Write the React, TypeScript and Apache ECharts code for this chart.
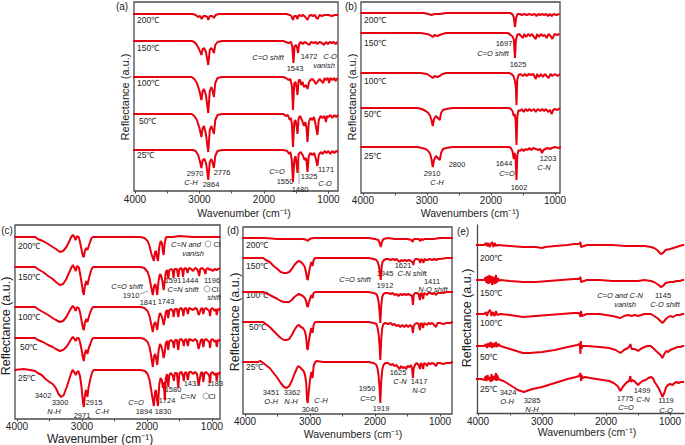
import React, { useEffect, useRef } from "react";
import * as echarts from "echarts";

const FONT = '"Liberation Sans", Arial, Helvetica, sans-serif';
const RED = "#e8000f";

const temps = ["200℃", "150℃", "100℃", "50℃", "25℃"];
const tickLabels = [4000, 3000, 2000, 1000];
const minorTicks = [4000, 3500, 3000, 2500, 2000, 1500, 1000];

// ---- (a) baselines (a.u. offsets) and dips [wavenumber, dip] ----
const aBase = [177, 150, 114, 77, 41];
const a200 = [[4030,0],[3100,0],[3060,1],[3020,3],[2990,2],[2965,5],[2940,2],[2910,2],[2880,3],[2864,6],[2840,2],[2800,2],[2776,4],[2750,1],[2700,0],[1650,0],[1600,1],[1575,2],[1550,6],[1530,2],[1500,2],[1480,5],[1460,1],[1420,2],[1390,1],[1360,3],[1325,6],[1300,2],[1270,1],[1240,2],[1210,1],[1185,4],[1165,5],[1140,1],[1100,2],[1060,1],[1000,1],[950,2],[900,1],[850,1]];
const a150 = [[4030,0],[3120,0],[3080,1],[3040,4],[3000,9],[2970,14],[2950,8],[2930,7],[2900,11],[2864,24],[2840,9],[2815,7],[2795,9],[2776,12],[2755,4],[2720,1],[2650,0],[1700,0],[1660,1],[1620,2],[1580,1],[1560,6],[1543,22],[1525,5],[1500,4],[1485,7],[1472,12],[1455,3],[1430,1],[1400,3],[1370,1],[1340,2],[1300,4],[1270,1],[1230,2],[1200,1],[1170,3],[1140,1],[1100,2],[1070,4],[1040,1],[1010,3],[980,1],[950,2],[920,1],[890,3],[860,1]];
const a100 = [[4030,0],[3120,0],[3080,2],[3040,6],[3000,14],[2970,23],[2950,14],[2930,12],[2900,18],[2864,36],[2840,14],[2815,10],[2795,14],[2776,20],[2755,6],[2720,1],[2650,0],[1700,0],[1660,1],[1620,3],[1590,2],[1565,10],[1550,33],[1530,6],[1510,5],[1495,10],[1480,18],[1462,3],[1440,3],[1420,8],[1400,5],[1380,10],[1350,8],[1325,12],[1300,5],[1280,3],[1250,2],[1220,4],[1195,7],[1171,5],[1140,2],[1110,4],[1080,6],[1060,1],[1040,3],[1010,1],[990,6],[970,1],[940,3],[910,1],[890,4],[860,1]];
const a50 = [[4030,0],[3120,0],[3080,2],[3040,6],[3000,14],[2970,23],[2950,14],[2930,12],[2900,20],[2864,38],[2840,16],[2815,12],[2795,16],[2776,20],[2755,6],[2720,1],[2650,0],[1700,0],[1660,2],[1630,1],[1600,6],[1580,4],[1565,12],[1550,33],[1530,8],[1510,6],[1495,12],[1480,20],[1462,4],[1440,2],[1410,6],[1380,12],[1360,8],[1340,14],[1325,28],[1305,8],[1280,4],[1250,6],[1225,3],[1195,12],[1171,21],[1150,6],[1120,2],[1090,4],[1060,2],[1040,8],[1020,2],[1000,3],[970,1],[940,4],[910,1],[880,3],[850,1]];
const a25 = [[4030,0],[3100,0],[3060,1],[3020,5],[2990,12],[2970,18],[2950,10],[2920,9],[2895,14],[2864,30],[2840,12],[2815,9],[2800,12],[2776,18],[2755,6],[2720,1],[2650,0],[1700,0],[1640,1],[1610,4],[1590,2],[1570,9],[1550,32],[1530,10],[1510,6],[1495,14],[1480,23],[1462,4],[1430,2],[1400,5],[1370,10],[1345,8],[1325,22],[1305,6],[1280,3],[1250,5],[1220,3],[1195,9],[1171,16],[1150,5],[1120,2],[1090,4],[1060,1],[1030,3],[1000,1],[970,4],[940,1],[910,3],[880,1],[850,2]];

// ---- (b) ----
const bBase = [180, 160, 120, 85, 46];
const b200 = [[4040,0],[3050,0],[2980,1],[2930,2],[2880,1],[2800,1],[2700,0],[1700,0],[1670,1],[1645,4],[1625,14],[1608,5],[1585,1],[1550,1],[1520,2],[1480,1],[1440,2],[1400,1],[1360,2],[1320,1],[1290,3],[1260,1],[1230,2],[1200,1],[1170,2],[1140,1],[1110,3],[1080,1],[1050,3],[1020,1],[980,2],[930,1]];
const b150 = [[4040,0],[3100,0],[3000,1],[2950,2],[2910,4],[2880,2],[2840,3],[2800,2],[2760,1],[2700,0],[1740,0],[1710,1],[1697,2],[1670,3],[1645,6],[1625,25],[1610,7],[1590,2],[1560,1],[1530,3],[1500,5],[1480,1],[1450,4],[1420,1],[1390,3],[1360,1],[1330,4],[1300,6],[1280,1],[1250,4],[1220,1],[1190,3],[1160,2],[1130,5],[1100,1],[1070,3],[1040,6],[1010,1],[970,2],[930,1]];
const b100 = [[4040,0],[3100,0],[3000,1],[2950,3],[2910,5],[2880,3],[2840,4],[2800,3],[2760,1],[2700,0],[1720,0],[1680,1],[1650,3],[1625,8],[1612,14],[1602,32],[1590,7],[1570,2],[1540,1],[1500,3],[1470,1],[1440,3],[1410,1],[1380,2],[1340,1],[1300,6],[1280,1],[1250,4],[1220,1],[1190,4],[1160,1],[1130,3],[1100,5],[1070,1],[1040,3],[1000,1],[960,3],[920,1]];
const b50 = [[4040,0],[3150,0],[3080,1],[3020,3],[2980,5],[2950,8],[2930,12],[2910,18],[2890,11],[2860,8],[2830,10],[2800,12],[2780,5],[2750,2],[2700,1],[2600,0],[1720,0],[1690,1],[1665,3],[1644,8],[1630,6],[1615,12],[1602,37],[1588,8],[1570,2],[1545,3],[1520,1],[1490,4],[1460,1],[1430,3],[1400,1],[1370,3],[1330,1],[1300,4],[1270,1],[1230,3],[1200,1],[1170,3],[1140,1],[1110,4],[1080,2],[1050,6],[1030,2],[1000,1],[960,2],[920,0]];
const b25 = [[4040,0],[3150,0],[3080,1],[3020,2],[2980,4],[2950,7],[2930,12],[2910,20],[2890,13],[2860,9],[2830,11],[2800,13],[2780,6],[2750,2],[2700,1],[2600,0],[1720,0],[1690,1],[1665,4],[1644,12],[1630,6],[1615,12],[1602,33],[1588,8],[1570,3],[1545,4],[1520,2],[1490,4],[1460,2],[1430,3],[1400,1],[1370,3],[1340,1],[1300,2],[1260,3],[1230,2],[1203,6],[1180,3],[1150,2],[1120,1],[1080,2],[1050,1],[1000,0],[950,1],[900,0]];

// ---- (c) ----
const cBase = [182, 152, 112, 81, 49];
const c200 = [[4040,0],[3720,0],[3680,2],[3600,4],[3520,7],[3450,10],[3400,12],[3340,15],[3290,14],[3240,10],[3200,5],[3165,0],[3140,-2],[3115,0],[3095,3],[3075,-1],[3050,0],[3030,5],[3005,13],[2985,19],[2971,20],[2955,14],[2935,11],[2915,13],[2895,9],[2870,4],[2850,1],[2830,0],[2100,0],[2040,1],[1990,4],[1960,9],[1935,16],[1915,20],[1894,24],[1875,15],[1860,14],[1845,20],[1830,24],[1810,10],[1790,4],[1770,6],[1755,14],[1743,18],[1730,8],[1715,2],[1700,0],[1600,0],[1500,-1],[1300,0],[1000,0],[870,0]];
const c150 = [[4040,0],[3720,0],[3680,2],[3600,5],[3520,9],[3450,12],[3400,15],[3340,18],[3290,17],[3240,12],[3200,6],[3165,1],[3140,-2],[3115,1],[3095,4],[3075,-1],[3050,0],[3030,6],[3005,16],[2985,25],[2971,28],[2955,19],[2935,14],[2915,18],[2895,12],[2870,6],[2850,2],[2830,0],[2100,0],[2040,1],[1990,5],[1960,11],[1935,20],[1910,28],[1890,19],[1870,17],[1855,22],[1841,28],[1820,13],[1800,7],[1780,9],[1760,15],[1743,23],[1725,14],[1710,5],[1690,3],[1672,12],[1655,3],[1630,2],[1605,3],[1591,11],[1575,2],[1540,2],[1518,10],[1500,2],[1470,1],[1455,4],[1444,10],[1430,2],[1400,1],[1375,6],[1355,1],[1320,2],[1290,4],[1260,1],[1230,2],[1210,5],[1196,9],[1180,2],[1150,1],[1120,3],[1100,7],[1085,2],[1060,1],[1040,3],[1020,2],[990,4],[960,2],[930,3],[900,2],[875,1]];
const c100 = [[4040,0],[3720,0],[3680,2],[3600,5],[3520,8],[3450,11],[3400,13],[3340,15],[3290,14],[3240,10],[3200,5],[3165,1],[3140,-1],[3115,1],[3095,4],[3075,0],[3050,1],[3030,5],[3005,14],[2985,21],[2971,23],[2955,16],[2935,12],[2915,15],[2895,10],[2870,5],[2850,2],[2830,0],[2100,0],[2040,1],[1990,4],[1960,9],[1935,17],[1910,25],[1890,17],[1870,15],[1855,19],[1841,23],[1820,11],[1800,6],[1780,8],[1760,12],[1743,18],[1725,12],[1710,5],[1690,3],[1672,11],[1655,3],[1630,2],[1600,4],[1591,10],[1570,2],[1540,2],[1518,10],[1500,2],[1470,1],[1450,4],[1440,9],[1425,2],[1395,1],[1370,7],[1350,1],[1320,2],[1290,3],[1260,1],[1230,2],[1205,8],[1190,6],[1170,2],[1150,1],[1133,7],[1115,2],[1090,1],[1060,3],[1040,4],[1030,9],[1015,2],[990,1],[960,4],[940,2],[927,8],[910,2],[890,3],[875,1]];
const c50 = [[4040,0],[3720,0],[3680,2],[3600,4],[3520,7],[3450,9],[3400,11],[3340,13],[3290,12],[3240,9],[3200,5],[3165,1],[3140,-1],[3115,1],[3095,3],[3075,0],[3050,0],[3030,4],[3005,12],[2985,20],[2971,23],[2955,15],[2935,12],[2915,16],[2895,10],[2870,6],[2850,2],[2830,0],[2100,0],[2040,1],[1990,4],[1960,9],[1935,18],[1910,29],[1890,18],[1870,16],[1855,22],[1841,27],[1820,12],[1800,6],[1780,8],[1760,13],[1743,20],[1725,14],[1710,5],[1690,3],[1672,12],[1655,3],[1630,2],[1600,4],[1585,10],[1570,2],[1540,2],[1518,12],[1500,2],[1470,1],[1445,4],[1433,8],[1420,2],[1395,1],[1370,8],[1350,1],[1320,2],[1290,3],[1260,1],[1230,3],[1205,11],[1190,7],[1170,2],[1150,1],[1133,9],[1115,2],[1090,1],[1060,3],[1040,4],[1030,10],[1015,2],[990,1],[960,4],[940,2],[927,9],[910,2],[890,3],[875,1]];
const c25 = [[4040,0],[3900,-1],[3800,0],[3720,1],[3680,3],[3620,5],[3560,9],[3500,12],[3450,14],[3402,18],[3360,24],[3320,27],[3280,25],[3240,18],[3200,10],[3170,4],[3145,0],[3120,2],[3095,5],[3075,2],[3055,1],[3030,6],[3005,18],[2985,32],[2971,37],[2955,26],[2940,20],[2930,22],[2915,27],[2900,18],[2880,12],[2860,6],[2840,2],[2820,0],[2100,0],[2030,1],[1990,4],[1960,10],[1935,20],[1915,28],[1894,36],[1875,22],[1860,20],[1845,30],[1830,36],[1810,14],[1790,8],[1770,10],[1755,18],[1745,12],[1735,20],[1724,30],[1710,8],[1690,4],[1672,17],[1655,5],[1630,3],[1600,6],[1585,11],[1570,3],[1540,3],[1518,18],[1500,3],[1470,2],[1445,6],[1433,11],[1420,3],[1395,2],[1370,10],[1350,2],[1320,2],[1290,4],[1260,2],[1230,4],[1205,15],[1190,10],[1170,3],[1150,2],[1133,12],[1115,3],[1090,2],[1060,4],[1040,6],[1030,13],[1015,3],[990,2],[960,5],[940,3],[927,11],[910,3],[890,4],[875,2]];

// ---- (d) ----
const dBase = [176, 156, 122, 92, 52];
const d200 = [[4040,0],[3700,0],[3500,1],[3300,1],[3100,1],[3050,2],[3030,3],[3010,1],[2950,0],[2100,0],[2000,1],[1950,2],[1930,5],[1912,9],[1895,4],[1870,1],[1800,0],[1700,1],[1600,1],[1500,1],[1440,2],[1420,4],[1405,1],[1380,1],[1330,1],[1305,3],[1290,1],[1260,2],[1240,1],[1200,1],[1100,1],[1000,0],[900,0],[800,0]];
const d150 = [[4040,0],[3800,0],[3720,0],[3680,2],[3620,4],[3560,8],[3500,11],[3451,14],[3400,15],[3362,15],[3320,14],[3280,11],[3240,7],[3200,4],[3170,3],[3140,4],[3110,6],[3080,9],[3060,15],[3045,21],[3035,22],[3020,16],[3000,9],[2980,4],[2960,8],[2945,2],[2920,0],[2800,0],[2100,0],[2020,1],[1980,2],[1960,4],[1945,7],[1930,12],[1912,22],[1900,10],[1885,4],[1860,2],[1830,1],[1800,1],[1760,2],[1730,1],[1700,2],[1670,1],[1640,3],[1621,4],[1600,2],[1570,3],[1540,2],[1510,3],[1480,2],[1450,3],[1425,4],[1411,7],[1400,3],[1380,1],[1350,1],[1320,2],[1305,5],[1290,1],[1270,2],[1255,5],[1240,1],[1210,2],[1190,2],[1160,1],[1120,2],[1090,1],[1060,2],[1030,1],[1000,1],[900,0],[800,0]];
const d100 = [[4040,0],[3800,0],[3720,0],[3680,1],[3620,3],[3560,5],[3500,7],[3451,9],[3400,10],[3362,10],[3320,10],[3280,8],[3240,5],[3200,3],[3170,2],[3140,3],[3110,4],[3080,6],[3060,9],[3045,14],[3035,15],[3020,11],[3000,7],[2980,3],[2960,6],[2945,1],[2920,0],[2800,0],[2100,0],[2020,1],[1980,2],[1960,5],[1945,10],[1930,20],[1919,31],[1905,14],[1890,5],[1870,2],[1840,1],[1800,1],[1760,2],[1730,1],[1700,3],[1670,2],[1640,4],[1610,2],[1580,3],[1550,2],[1520,3],[1490,2],[1460,3],[1430,4],[1417,13],[1405,3],[1385,1],[1360,1],[1330,2],[1310,8],[1295,1],[1275,2],[1260,7],[1245,1],[1220,2],[1200,3],[1180,1],[1150,1],[1120,2],[1090,1],[1060,3],[1040,1],[1000,1],[950,1],[900,0],[800,0]];
const d50 = [[4040,0],[3800,0],[3720,0],[3680,2],[3620,5],[3560,9],[3500,13],[3451,16],[3400,18],[3362,18],[3320,17],[3280,13],[3240,8],[3200,4],[3170,3],[3140,5],[3110,6],[3080,9],[3060,15],[3045,26],[3035,28],[3020,20],[3000,12],[2980,6],[2960,11],[2945,3],[2920,0],[2800,0],[2100,0],[2020,1],[1980,2],[1960,6],[1945,12],[1930,24],[1919,38],[1905,18],[1890,6],[1870,2],[1840,1],[1800,2],[1760,1],[1730,3],[1700,2],[1670,4],[1640,3],[1610,5],[1580,3],[1550,5],[1520,3],[1490,5],[1460,3],[1430,5],[1417,11],[1405,4],[1385,2],[1360,1],[1330,2],[1310,8],[1295,1],[1275,2],[1260,6],[1245,1],[1220,2],[1200,3],[1180,1],[1150,2],[1120,1],[1090,3],[1060,5],[1040,1],[1000,1],[950,2],[900,1],[850,1],[800,0]];
const d25 = [[4040,0],[3800,0],[3760,-1],[3720,1],[3680,3],[3620,6],[3560,11],[3500,16],[3451,21],[3400,25],[3362,26],[3320,24],[3280,19],[3240,12],[3200,6],[3180,4],[3160,5],[3130,7],[3100,9],[3080,12],[3060,20],[3045,38],[3035,41],[3020,30],[3000,18],[2980,10],[2960,16],[2945,4],[2920,0],[2900,-1],[2800,0],[2100,0],[2020,1],[1980,3],[1960,7],[1945,14],[1930,26],[1919,41],[1905,20],[1890,8],[1870,3],[1840,1],[1800,1],[1760,3],[1730,2],[1700,4],[1670,3],[1650,5],[1625,7],[1600,4],[1580,6],[1550,5],[1520,7],[1500,4],[1470,5],[1450,3],[1430,7],[1417,16],[1405,6],[1385,3],[1360,1],[1330,3],[1310,7],[1295,1],[1275,3],[1260,7],[1245,1],[1220,2],[1200,4],[1180,1],[1150,2],[1120,1],[1090,2],[1060,4],[1040,1],[1000,1],[950,2],[900,1],[850,1],[800,0]];

// ---- (e) ----
const eBase = [168, 133, 99, 67, 34];
const e200 = [[4040,0],[3900,0],[3880,-2],[3860,1],[3840,-2],[3820,2],[3800,-1],[3780,-3],[3760,2],[3740,-2],[3720,1],[3700,0],[3500,1],[3300,2],[3100,2],[3000,3],[2950,2],[2800,1],[2600,0],[2500,-1],[2420,-1],[2400,-3],[2390,2],[2300,0],[2100,0],[1900,0],[1700,1],[1500,1],[1400,1],[1300,2],[1250,3],[1200,5],[1160,8],[1145,9],[1110,8],[1070,5],[1000,4],[950,3],[900,2],[850,1],[800,0],[780,0]];
const e150 = [[4040,0],[3900,0],[3880,-3],[3870,3],[3850,-4],[3840,4],[3820,-5],[3810,3],[3790,-4],[3780,5],[3760,-3],[3740,4],[3720,-5],[3710,3],[3690,-2],[3670,1],[3650,0],[3500,1],[3300,2],[3100,2],[2900,1],[2700,0],[2500,-1],[2420,-1],[2400,-3],[2390,2],[2300,0],[2100,0],[1900,1],[1700,1],[1500,1],[1400,0],[1300,1],[1250,2],[1200,4],[1160,6],[1145,7],[1110,6],[1070,3],[1000,2],[950,2],[900,1],[850,1],[800,0],[780,0]];
const e100 = [[4040,0],[3900,0],[3880,-2],[3860,2],[3840,-2],[3810,-4],[3790,2],[3770,-2],[3740,2],[3720,-3],[3700,1],[3650,0],[3500,1],[3300,3],[3100,2],[2900,1],[2700,0],[2500,-1],[2420,-1],[2400,3],[2390,-3],[2380,2],[2300,0],[2100,0],[1900,2],[1775,4],[1720,2],[1650,1],[1600,2],[1550,1],[1500,2],[1450,1],[1400,0],[1300,0],[1250,2],[1200,4],[1150,7],[1119,9],[1090,7],[1050,4],[1000,2],[950,3],[900,1],[850,1],[800,0],[780,0]];
const e50 = [[4040,0],[3900,0],[3880,-2],[3860,2],[3840,-3],[3820,1],[3800,-4],[3780,2],[3760,-3],[3740,1],[3720,-4],[3700,1],[3680,-2],[3650,0],[3550,2],[3450,4],[3350,6],[3300,7],[3200,7],[3000,6],[2800,4],[2600,1],[2450,-1],[2410,-2],[2400,8],[2395,-5],[2385,3],[2370,0],[2300,0],[2100,1],[1950,2],[1850,4],[1775,7],[1720,4],[1660,2],[1630,0],[1620,-2],[1600,3],[1560,3],[1520,4],[1499,5],[1460,3],[1400,1],[1350,0],[1300,0],[1250,3],[1200,6],[1150,9],[1119,12],[1090,8],[1060,5],[1030,6],[1000,4],[960,3],[920,2],[880,1],[840,1],[800,0],[780,0]];
const e25 = [[4040,0],[3950,0],[3900,1],[3880,-3],[3870,2],[3850,-4],[3840,1],[3820,-2],[3800,3],[3790,-5],[3780,2],[3760,-3],[3740,1],[3720,-6],[3710,2],[3700,-4],[3680,0],[3650,1],[3600,2],[3550,4],[3500,6],[3450,8],[3424,9],[3380,11],[3330,12],[3285,13],[3240,12],[3150,10],[3000,8],[2800,4],[2600,0],[2470,-2],[2420,-3],[2400,-6],[2390,2],[2380,-4],[2370,-1],[2330,-2],[2250,-1],[2150,0],[2050,1],[1950,2],[1880,4],[1820,7],[1775,12],[1740,8],[1700,5],[1670,3],[1640,2],[1620,-3],[1610,3],[1590,1],[1560,2],[1530,4],[1499,6],[1470,4],[1430,2],[1380,1],[1340,-1],[1300,-2],[1270,-1],[1240,3],[1210,6],[1180,9],[1150,13],[1119,18],[1090,14],[1060,8],[1030,6],[1000,5],[960,6],[930,4],[900,3],[870,4],[830,3],[800,3],[780,3]];

// ---- layout (pixels) ----
const panels = [
  { key: "a", grid: { left: 134, top: 2, width: 204, height: 189 }, xMin: 852, xMax: 4015, base: aBase, spectra: [a200, a150, a100, a50, a25], box: true, labelMargin: 3 },
  { key: "b", grid: { left: 361, top: 2, width: 199, height: 191 }, xMin: 922, xMax: 4031, base: bBase, spectra: [b200, b150, b100, b50, b25], box: true, labelMargin: 2 },
  { key: "c", grid: { left: 15, top: 225, width: 205, height: 194 }, xMin: 876, xMax: 4030, base: cBase, spectra: [c200, c150, c100, c50, c25], box: true, labelMargin: 2 },
  { key: "d", grid: { left: 243, top: 227, width: 209, height: 187 }, xMin: 816, xMax: 4031, base: dBase, spectra: [d200, d150, d100, d50, d25], box: true, labelMargin: 2 },
  { key: "e", grid: { left: 477, top: 225, width: 207, height: 188 }, xMin: 782, xMax: 4016, base: eBase, spectra: [e200, e150, e100, e50, e25], box: false, labelMargin: 3 },
];

const tempPos = {
  a: [[137, 20], [137, 48], [137, 83], [139, 121], [137, 155]],
  b: [[364, 20], [364, 43], [364, 81], [364, 114], [364, 156]],
  c: [[18, 246], [18, 277], [18, 317], [20, 347], [18, 378]],
  d: [[246, 245], [246, 266], [246, 295], [249, 327], [246, 367]],
  e: [[480, 258], [480, 293], [480, 323], [480, 357], [480, 389]],
};

// [text, x, y, italic]
const notes: [string, number, number, boolean?][] = [
  ["C=O shift", 268, 57, true], ["1543", 295, 68], ["1472", 309, 56], ["C-O", 330, 56, true], ["vanish", 324, 65, true],
  ["2970", 195, 173], ["C-H", 191, 182, true], ["2864", 211, 184], ["2776", 222, 172],
  ["C=O", 277, 171, true], ["1550", 285, 181], ["1480", 300, 189], ["1325", 309, 176], ["1171", 326, 169], ["C-O", 325, 183, true],
  ["1697", 504, 43], ["C=O shift", 493, 53, true], ["1625", 518, 64],
  ["2910", 432, 173], ["C-H", 437, 182, true], ["2800", 457, 164], ["1644", 504, 163], ["C=O", 507, 173, true], ["1602", 519, 187], ["1203", 548, 158], ["C-N", 544, 167, true],
  ["C=N and", 186, 244, true], ["Cl", 217, 244], ["vanish", 193, 253, true],
  ["C=O shift", 127, 286, true], ["1910", 131, 295], ["1841", 148, 302], ["1743", 166, 301], ["1591", 173, 280], ["1444", 190, 280], ["C=N shift", 183, 289, true], ["1196", 212, 280], ["Cl", 215, 289], ["shift", 214, 297, true],
  ["3402", 43, 395], ["3300", 60, 402], ["N-H", 54, 411, true], ["2971", 82, 415], ["2915", 94, 402], ["C-H", 102, 411, true],
  ["C=O", 136, 402, true], ["1894", 144, 411], ["1830", 163, 411], ["1724", 167, 400], ["1580", 173, 389], ["1433", 192, 383], ["1183", 215, 383], ["C=N", 188, 396, true], ["Cl", 212, 396],
  ["1945", 385, 273], ["C=O shift", 355, 279, true], ["1912", 385, 285], ["1621", 403, 265], ["C-N shift", 412, 273, true], ["1411", 432, 281], ["N-O shift", 433, 289, true],
  ["3451", 271, 392], ["O-H", 271, 401, true], ["3362", 292, 392], ["N-H", 291, 401, true], ["3040", 310, 409], ["C-H", 321, 400, true],
  ["1950", 367, 388], ["C=O", 368, 398, true], ["1919", 381, 408], ["1625", 398, 372], ["C-N", 400, 381, true], ["1417", 419, 381], ["N-O", 419, 390, true],
  ["C=O and C-N", 620, 295, true], ["vanish", 625, 304, true], ["1145", 663, 295], ["C-O shift", 665, 304, true],
  ["3424", 508, 392], ["O-H", 507, 401, true], ["3285", 532, 400], ["N-H", 532, 409, true], ["1775", 625, 398], ["C=O", 626, 407, true], ["1499", 642, 390], ["C-N", 643, 399, true], ["1119", 666, 400.5], ["C-O", 666, 410, true],
];

const rings = [[208, 244], [207, 289], [206, 396]];
const leaders = [[299, 163, 299, 184], [140, 294, 148, 291], [418, 267, 427, 276]];

// [text, x, y, size, rotated]
const titles: [string, number, number, number, boolean][] = [
  ["(a)", 122, 6, 10, false], ["(b)", 351, 6, 10, false], ["(c)", 7, 230, 10, false], ["(d)", 233, 230, 10, false], ["(e)", 463, 231, 10, false],
  ["Wavenumber (cm⁻¹)", 244, 212.5, 10.5, false], ["Wavenumbers (cm⁻¹)", 470, 212.5, 10.5, false],
  ["Wavenumber (cm⁻¹)", 100, 439, 12, false], ["Wavenumbers (cm⁻¹)", 353, 434, 10.5, false], ["Wavenumbers (cm⁻¹)", 587, 432, 10.5, false],
  ["Reflectance (a.u.)", 125, 97, 11, true], ["Reflectance (a.u.)", 352, 97, 11, true],
  ["Reflectance (a.u.)", 6, 326, 12.5, true], ["Reflectance (a.u.)", 235, 322, 12.5, true], ["Reflectance (a.u.)", 467, 318, 12.5, true],
];

function txt(x: number, y: number, text: string, size: number, italic = false, align = "center", rot = 0, color = "#222") {
  return {
    type: "text", x, y, rotation: rot, silent: true,
    style: { text, fill: color, fontSize: size, fontFamily: FONT, fontStyle: italic ? "italic" : "normal", textAlign: align, textVerticalAlign: "middle" },
  };
}

export default function App() {
  const ref = useRef<HTMLDivElement>(null);
  useEffect(() => {
    document.body.style.margin = "0";
    const chart = echarts.init(ref.current!, null, { renderer: "svg" });
    const grids: any[] = [];
    const xAxes: any[] = [];
    const yAxes: any[] = [];
    const series: any[] = [];
    const graphic: any[] = [];

    panels.forEach((p, i) => {
      grids.push({
        ...p.grid, show: p.box, borderColor: "#4a4a4a", borderWidth: 1.3, backgroundColor: "transparent",
        containLabel: false, outerBoundsMode: "none",
      });
      xAxes.push({
        type: "value", gridIndex: i, inverse: true, min: p.xMin, max: p.xMax,
        axisLine: { show: !p.box, lineStyle: { color: "#4a4a4a", width: 1.3 } },
        axisTick: { show: true, customValues: minorTicks, length: 2.5, lineStyle: { color: "#4a4a4a", width: 1 } },
        axisLabel: { customValues: tickLabels, fontSize: 10, fontFamily: FONT, color: "#222", margin: p.labelMargin, formatter: (v: number) => String(v) },
        splitLine: { show: false },
      });
      yAxes.push({
        type: "value", gridIndex: i, min: 0, max: p.grid.height,
        axisLine: { show: !p.box, lineStyle: { color: "#4a4a4a", width: 1.3 } },
        axisTick: { show: false }, axisLabel: { show: false }, splitLine: { show: false },
      });
      p.spectra.forEach((s, k) => {
        series.push({
          type: "line", xAxisIndex: i, yAxisIndex: i, name: `${p.key} ${temps[k]}`,
          data: s.map(([w, d]) => [w, p.base[k] - d]),
          showSymbol: false, symbol: "none", silent: true, clip: true,
          lineStyle: { color: RED, width: 2 },
        });
      });
      (tempPos as any)[p.key].forEach(([x, y]: number[], k: number) => {
        graphic.push(txt(x, y, temps[k], 8.5, false, "left"));
      });
    });

    notes.forEach(([t, x, y, it]) => graphic.push(txt(x, y, t, 7.5, !!it)));
    titles.forEach(([t, x, y, s, r]) => graphic.push(txt(x, y, t, s, false, "center", r ? Math.PI / 2 : 0)));
    rings.forEach(([cx, cy]) => {
      const pts: number[][] = [];
      for (let k = 0; k < 6; k++) {
        const a = Math.PI / 6 + (k * Math.PI) / 3;
        pts.push([cx + 3.2 * Math.cos(a), cy + 3.2 * Math.sin(a)]);
      }
      graphic.push({ type: "polygon", silent: true, shape: { points: pts }, style: { fill: "none", stroke: "#888", lineWidth: 0.8 } });
    });
    leaders.forEach(([x1, y1, x2, y2]) =>
      graphic.push({ type: "line", silent: true, shape: { x1, y1, x2, y2 }, style: { stroke: "#777", lineWidth: 0.7 } })
    );

    chart.setOption({
      animation: false,
      grid: grids,
      xAxis: xAxes,
      yAxis: yAxes,
      series,
      graphic,
    });
    return () => chart.dispose();
  }, []);
  return <div ref={ref} style={{ width: 685, height: 445 }} />;
}
